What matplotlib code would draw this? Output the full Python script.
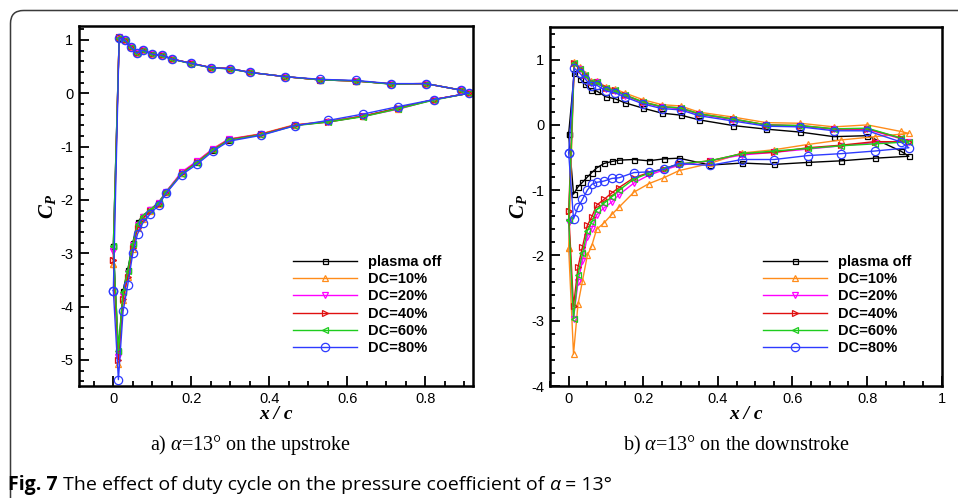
import numpy as np
import matplotlib
matplotlib.use("Agg")
import matplotlib.pyplot as plt
from matplotlib.patches import FancyBboxPatch

plt.rcParams['axes.unicode_minus'] = False
plt.rcParams['font.family'] = ['Liberation Sans', 'DejaVu Sans']
plt.rcParams['mathtext.fontset'] = 'custom'
plt.rcParams['mathtext.rm'] = 'Liberation Serif'
plt.rcParams['mathtext.it'] = 'Liberation Serif:italic'
plt.rcParams['mathtext.bf'] = 'Liberation Serif:bold'
plt.rcParams['mathtext.bfit'] = 'Liberation Serif:bold:italic'

# ---------------- data ----------------
labels = ["plasma off", "DC=10%", "DC=20%", "DC=40%", "DC=60%", "DC=80%"]

x_le = 0.0
x_te = 0.912
x_upper = [0.015, 0.030, 0.045, 0.060, 0.075, 0.100, 0.125, 0.150, 0.200, 0.250,
           0.300, 0.350, 0.441, 0.530, 0.621, 0.711, 0.801, 0.890]
x_lower = [0.013, 0.025, 0.037, 0.050, 0.062, 0.075, 0.095, 0.116, 0.135, 0.175,
           0.215, 0.255, 0.296, 0.379, 0.465, 0.551, 0.641, 0.731, 0.821]

# (a) upstroke
a_le = [-2.87, -3.20, -2.95, -3.12, -2.87, -3.70]
a_upper = [
    [1.04, 0.99, 0.86, 0.75, 0.81, 0.73, 0.71, 0.64, 0.56, 0.48, 0.46, 0.39, 0.31, 0.25, 0.23, 0.175, 0.18, 0.06],
    [1.06, 0.99, 0.86, 0.75, 0.81, 0.73, 0.71, 0.64, 0.56, 0.48, 0.46, 0.39, 0.31, 0.25, 0.23, 0.175, 0.18, 0.06],
    [1.05, 0.99, 0.86, 0.75, 0.81, 0.73, 0.71, 0.64, 0.56, 0.48, 0.46, 0.39, 0.31, 0.25, 0.23, 0.175, 0.18, 0.06],
    [1.05, 0.99, 0.86, 0.75, 0.81, 0.73, 0.71, 0.64, 0.56, 0.48, 0.46, 0.39, 0.31, 0.25, 0.23, 0.175, 0.18, 0.06],
    [1.04, 0.99, 0.86, 0.75, 0.81, 0.73, 0.71, 0.64, 0.55, 0.48, 0.45, 0.39, 0.31, 0.25, 0.23, 0.17, 0.18, 0.06],
    [1.04, 0.99, 0.86, 0.75, 0.81, 0.73, 0.71, 0.64, 0.56, 0.48, 0.46, 0.39, 0.31, 0.26, 0.24, 0.18, 0.18, 0.06],
]
a_te = [0.0, 0.0, 0.0, 0.0, 0.0, 0.0]
a_lower = [
    [-4.83, -3.70, -3.31, -2.80, -2.42, -2.30, -2.18, -2.05, -1.85, -1.50, -1.29, -1.06, -0.87, -0.77, -0.60, -0.53, -0.43, -0.28, -0.12],
    [-5.08, -3.88, -3.44, -2.92, -2.52, -2.35, -2.20, -2.07, -1.86, -1.49, -1.28, -1.04, -0.86, -0.76, -0.59, -0.53, -0.43, -0.29, -0.12],
    [-4.95, -3.80, -3.38, -2.85, -2.48, -2.32, -2.19, -2.06, -1.85, -1.48, -1.27, -1.05, -0.86, -0.77, -0.60, -0.54, -0.43, -0.30, -0.12],
    [-5.00, -3.85, -3.44, -2.90, -2.53, -2.35, -2.20, -2.07, -1.87, -1.50, -1.29, -1.06, -0.87, -0.77, -0.60, -0.54, -0.43, -0.28, -0.12],
    [-4.83, -3.73, -3.33, -2.82, -2.45, -2.30, -2.19, -2.06, -1.86, -1.51, -1.30, -1.07, -0.88, -0.78, -0.61, -0.54, -0.44, -0.29, -0.13],
    [-5.37, -4.09, -3.59, -3.00, -2.64, -2.44, -2.26, -2.10, -1.88, -1.53, -1.33, -1.09, -0.90, -0.79, -0.61, -0.51, -0.39, -0.25, -0.12],
]

# (b) downstroke
b_le = [-0.14, -1.88, -1.48, -1.32, -1.46, -0.43]
b_upper = [
    [0.80, 0.71, 0.62, 0.53, 0.52, 0.43, 0.40, 0.34, 0.256, 0.18, 0.15, 0.077, -0.01, -0.065, -0.11, -0.18, -0.165, -0.40],
    [0.97, 0.88, 0.78, 0.67, 0.68, 0.58, 0.55, 0.49, 0.385, 0.31, 0.29, 0.195, 0.12, 0.035, 0.025, -0.03, 0.00, -0.10],
    [0.94, 0.85, 0.75, 0.64, 0.65, 0.55, 0.52, 0.45, 0.34, 0.27, 0.25, 0.16, 0.08, 0.00, -0.02, -0.07, -0.07, -0.21],
    [0.95, 0.86, 0.76, 0.65, 0.66, 0.56, 0.53, 0.46, 0.35, 0.28, 0.26, 0.17, 0.09, 0.00, -0.01, -0.06, -0.06, -0.20],
    [0.95, 0.86, 0.76, 0.65, 0.66, 0.56, 0.53, 0.46, 0.35, 0.28, 0.26, 0.17, 0.09, 0.00, -0.01, -0.06, -0.05, -0.20],
    [0.87, 0.79, 0.70, 0.60, 0.61, 0.52, 0.49, 0.43, 0.32, 0.25, 0.23, 0.14, 0.06, -0.02, -0.03, -0.09, -0.09, -0.26],
]
b_te = [-0.48, -0.13, -0.26, -0.26, -0.26, -0.35]
b_lower = [
    [-1.06, -0.95, -0.88, -0.80, -0.73, -0.66, -0.59, -0.56, -0.54, -0.53, -0.55, -0.52, -0.51, -0.615, -0.585, -0.605, -0.575, -0.55, -0.51],
    [-3.51, -2.75, -2.39, -2.00, -1.85, -1.60, -1.50, -1.37, -1.26, -1.03, -0.90, -0.81, -0.70, -0.59, -0.43, -0.38, -0.30, -0.23, -0.18],
    [-2.97, -2.41, -2.08, -1.71, -1.59, -1.38, -1.27, -1.18, -1.07, -0.89, -0.77, -0.69, -0.62, -0.55, -0.46, -0.42, -0.37, -0.32, -0.27],
    [-2.78, -2.18, -1.87, -1.54, -1.41, -1.23, -1.14, -1.04, -0.96, -0.81, -0.73, -0.67, -0.60, -0.55, -0.44, -0.42, -0.35, -0.31, -0.256],
    [-2.97, -2.30, -1.97, -1.62, -1.49, -1.30, -1.20, -1.10, -1.00, -0.83, -0.74, -0.67, -0.60, -0.55, -0.44, -0.40, -0.36, -0.32, -0.29],
    [-1.44, -1.26, -1.14, -1.00, -0.91, -0.88, -0.86, -0.82, -0.81, -0.73, -0.72, -0.68, -0.59, -0.62, -0.53, -0.53, -0.47, -0.44, -0.40],
]

# ---------------- styles ----------------
colors = ['#000000', '#FF8C1A', '#FF00FF', '#E01010', '#1ECC1E', '#2E3BFF']
markers = ['s', '^', 'v', '>', '<', 'o']
msizes = [3.6, 5.0, 5.0, 5.0, 5.0, 6.0]

W, H = 958, 498
fig = plt.figure(figsize=(W / 100, H / 100), dpi=100)

# background frame
bg = fig.add_axes([0, 0, 1, 1], zorder=-5)
bg.set_xlim(0, W)
bg.set_ylim(H, 0)
bg.axis('off')
bg.add_patch(FancyBboxPatch((10.5, 10.5), 1200, 700,
                            boxstyle='round,pad=0,rounding_size=13',
                            fill=False, ec='#3a3a3a', lw=1.1))


def loop(le, up, te, lo):
    xs = [x_le] + x_upper + [x_te] + x_lower[::-1] + [x_le]
    ys = [le] + list(up) + [te] + list(lo)[::-1] + [le]
    return xs, ys


def setup(ax, xlim, ylim, xticks, yticks, xminor, yminor):
    ax.set_xlim(*xlim)
    ax.set_ylim(*ylim)
    ax.set_xticks(xticks)
    ax.set_yticks(yticks)
    ax.set_xticks(xminor, minor=True)
    ax.set_yticks(yminor, minor=True)
    ax.set_xticklabels([('%g' % t) for t in xticks])
    ax.set_yticklabels([('%g' % t) for t in yticks])
    ax.tick_params(which='both', direction='in', top=False, right=False,
                   labelsize=10.5, width=1.3)
    ax.tick_params(which='major', length=7, pad=4)
    ax.tick_params(which='minor', length=3.5)
    for s in ax.spines.values():
        s.set_linewidth(1.8)
    ax.set_xlabel('x / c', family='Liberation Serif', style='italic',
                  weight='bold', fontsize=14, labelpad=0)
    ax.set_ylabel(r'$\mathbfit{C}_{\mathbfit{P}}$', fontsize=15, labelpad=2)


def draw(ax, le, up, te, lo, legend_anchor):
    for i in range(6):
        xs, ys = loop(le[i], up[i], te[i], lo[i])
        ax.plot(xs, ys, color=colors[i], lw=1.0, marker=markers[i],
                ms=msizes[i], mfc='none', mec=colors[i], mew=0.9,
                label=labels[i])
    leg = ax.legend(loc='upper left', bbox_to_anchor=legend_anchor,
                    bbox_transform=fig.transFigure, frameon=False,
                    numpoints=1, handlelength=4.4, handletextpad=0.75,
                    labelspacing=0.22, borderpad=0, borderaxespad=0,
                    prop={'family': 'Liberation Sans', 'weight': 'bold',
                          'size': 10.5})
    return leg


ax1 = fig.add_axes([79 / W, 1 - 386 / H, (473 - 79) / W, (386 - 26) / H])
setup(ax1, (-0.088, 0.922), (-5.49, 1.26),
      [0, 0.2, 0.4, 0.6, 0.8], [-5, -4, -3, -2, -1, 0, 1],
      np.arange(-0.05, 0.92, 0.05), np.arange(-5.4, 1.25, 0.2))
draw(ax1, a_le, a_upper, a_te, a_lower, (293 / W, 1 - 255 / H))

ax2 = fig.add_axes([550 / W, 1 - 386 / H, (941.7 - 550) / W, (386 - 27) / H])
setup(ax2, (-0.05, 1.0), (-4.0, 1.5),
      [0, 0.2, 0.4, 0.6, 0.8, 1], [-4, -3, -2, -1, 0, 1],
      np.arange(-0.05, 1.0, 0.05), np.arange(-4.0, 1.5, 0.2))
draw(ax2, b_le, b_upper, b_te, b_lower, (763 / W, 1 - 255 / H))

# sub captions
fig.text(251 / W, 1 - 445 / H, r'a) $\alpha$=13° on the upstroke',
         family='Liberation Serif', fontsize=14.5, ha='center', va='center')
fig.text(736 / W, 1 - 445 / H, r'b) $\alpha$=13° on the downstroke',
         family='Liberation Serif', fontsize=14.5, ha='center', va='center')

# figure caption
FS = 14
base_y = 1 - 490 / H
t1 = fig.text(8 / W, base_y, 'Fig. 7', family='Open Sans', weight='bold',
              fontsize=FS, ha='left', va='baseline')
t2 = fig.text(0, base_y, ' The effect of duty cycle on the pressure coefficient of ',
              family='Open Sans', fontsize=FS, va='baseline')
fig.canvas.draw()
r = fig.canvas.get_renderer()
bb = t1.get_window_extent(r)
t2.set_position((bb.x1 / W, base_y))
fig.canvas.draw()
bb2 = t2.get_window_extent(r)
t3 = fig.text(bb2.x1 / W, base_y, 'α', family='Open Sans', style='italic',
              fontsize=FS, va='baseline')
fig.canvas.draw()
bb3 = t3.get_window_extent(r)
fig.text(bb3.x1 / W, base_y, ' = 13°', family='Open Sans', fontsize=FS,
         va='baseline')

fig.savefig('out.png', dpi=100)
